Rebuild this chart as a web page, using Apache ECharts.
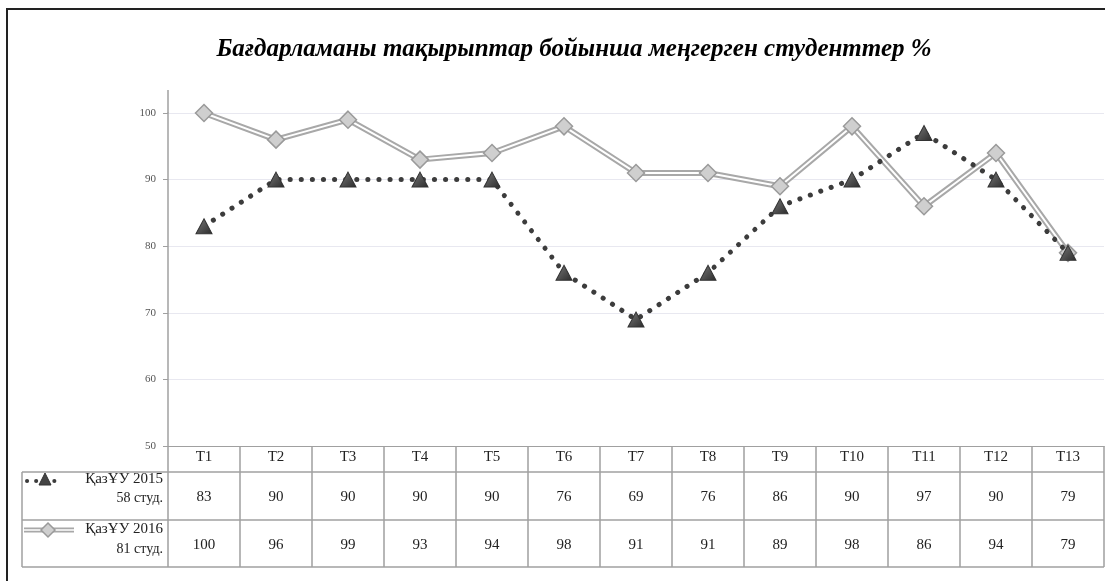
<!DOCTYPE html>
<html><head><meta charset="utf-8">
<script src="https://cdn.jsdelivr.net/npm/echarts@6/dist/echarts.min.js"></script>
<style>html,body{margin:0;padding:0;background:#fff}#c{width:1105px;height:581px}</style>
</head><body><div id="c"></div>
<script>
const categories = ['T1','T2','T3','T4','T5','T6','T7','T8','T9','T10','T11','T12','T13'];
const values2015 = [83, 90, 90, 90, 90, 76, 69, 76, 86, 90, 97, 90, 79];
const values2016 = [100, 96, 99, 93, 94, 98, 91, 91, 89, 98, 86, 94, 79];
const name2015 = ['ҚазҰУ 2015', '58 студ.'];
const name2016 = ['ҚазҰУ 2016', '81 студ.'];
const yTicks = [50, 60, 70, 80, 90, 100];
const titleText = 'Бағдарламаны тақырыптар бойынша меңгерген студенттер %';

const FONT = 'Liberation Serif';
const GL = 168, GR = 1104, GT = 113, GB = 446;
const ROW1 = 472, ROW2 = 520, ROW3 = 567, TL = 22;
const gridLine = '#a0a0a0';

const chart = echarts.init(document.getElementById('c'), null, {renderer: 'canvas'});
const option = {
  animation: false,
  backgroundColor: '#fff',
  title: {
    text: titleText, left: 569, top: 32, textAlign: 'center',
    textStyle: {fontFamily: FONT, fontSize: 25, fontWeight: 'bold', fontStyle: 'italic', color: '#000'}
  },
  grid: {left: GL, right: 1105 - GR, top: GT, bottom: 581 - GB, containLabel: false},
  xAxis: [
    {
      type: 'category', data: categories, boundaryGap: true, position: 'bottom',
      axisLine: {show: true, lineStyle: {color: gridLine, width: 1}},
      axisTick: {show: true, interval: 0, length: ROW3 - GB, lineStyle: {color: gridLine, width: 1.5}},
      axisLabel: {interval: 0, margin: 4, fontFamily: FONT, fontSize: 15, color: '#222'}
    },
    {
      type: 'category', data: values2015.map(String), boundaryGap: true, position: 'bottom', offset: 41,
      axisLine: {show: false}, axisTick: {show: false},
      axisLabel: {interval: 0, margin: 3, fontFamily: FONT, fontSize: 15, color: '#222'}
    },
    {
      type: 'category', data: values2016.map(String), boundaryGap: true, position: 'bottom', offset: 89,
      axisLine: {show: false}, axisTick: {show: false},
      axisLabel: {interval: 0, margin: 3, fontFamily: FONT, fontSize: 15, color: '#222'}
    }
  ],
  yAxis: {
    type: 'value', min: yTicks[0], max: yTicks[yTicks.length - 1], interval: 10,
    axisLine: {show: true, lineStyle: {color: gridLine, width: 1.5}},
    axisTick: {show: true, length: 5, lineStyle: {color: gridLine}},
    axisLabel: {margin: 12, fontFamily: FONT, fontSize: 11, color: '#555'},
    splitLine: {show: true, lineStyle: {color: '#e8e8f0', width: 1}}
  },
  series: [
    {
      name: name2015[0], type: 'line', xAxisIndex: 0, data: values2015, z: 4,
      lineStyle: {color: '#3c3c3c', width: 5, type: [0.1, 11], cap: 'round'},
      symbol: 'triangle', symbolSize: [16, 15],
      itemStyle: {color: new echarts.graphic.LinearGradient(0, 0, 1, 1, [{offset: 0, color: '#7a7a7a'}, {offset: 1, color: '#2a2a2a'}]), borderColor: '#333', borderWidth: 1}
    },
    {
      name: name2016[0] + ' outline', type: 'line', xAxisIndex: 0, data: values2016, z: 2,
      lineStyle: {color: '#a8a8a8', width: 6}, symbol: 'none'
    },
    {
      name: name2016[0], type: 'line', xAxisIndex: 0, data: values2016, z: 3,
      lineStyle: {color: '#ffffff', width: 2},
      symbol: 'diamond', symbolSize: 17,
      itemStyle: {color: '#cfcfcf', borderColor: '#9a9a9a', borderWidth: 1.5}
    }
  ],
  graphic: [
    {type: 'rect', shape: {x: 7, y: 9, width: 1300, height: 1300}, style: {fill: 'none', stroke: '#222', lineWidth: 2}, silent: true},
    {type: 'line', shape: {x1: GL, y1: 90, x2: GL, y2: GT}, style: {stroke: gridLine, lineWidth: 1.5}},
    {type: 'line', shape: {x1: TL, y1: ROW1, x2: GR, y2: ROW1}, style: {stroke: gridLine, lineWidth: 1.5}},
    {type: 'line', shape: {x1: TL, y1: ROW2, x2: GR, y2: ROW2}, style: {stroke: gridLine, lineWidth: 1.5}},
    {type: 'line', shape: {x1: TL, y1: ROW3, x2: GR, y2: ROW3}, style: {stroke: gridLine, lineWidth: 1.5}},
    {type: 'line', shape: {x1: TL, y1: ROW1, x2: TL, y2: ROW3}, style: {stroke: gridLine, lineWidth: 1.5}},
    // legend key 2015
    {type: 'polyline', shape: {points: [[27, 481], [62, 481]]}, style: {stroke: '#3c3c3c', lineWidth: 4, lineDash: [0.1, 9], lineCap: 'round'}},
    {type: 'polygon', shape: {points: [[45, 473], [51, 485], [39, 485]]}, style: {fill: '#444', stroke: '#333'}},
    // legend key 2016
    {type: 'line', shape: {x1: 24, y1: 530, x2: 74, y2: 530}, style: {stroke: '#a8a8a8', lineWidth: 5}},
    {type: 'line', shape: {x1: 24, y1: 530, x2: 74, y2: 530}, style: {stroke: '#fff', lineWidth: 1.5}},
    {type: 'polygon', shape: {points: [[48, 523], [55, 530], [48, 537], [41, 530]]}, style: {fill: '#cfcfcf', stroke: '#9a9a9a', lineWidth: 1.5}},
    {type: 'text', x: 163, y: 479, style: {text: name2015[0], align: 'right', verticalAlign: 'middle', font: '15px "Liberation Serif"', fill: '#222'}},
    {type: 'text', x: 163, y: 498, style: {text: name2015[1], align: 'right', verticalAlign: 'middle', font: '14px "Liberation Serif"', fill: '#222'}},
    {type: 'text', x: 163, y: 529, style: {text: name2016[0], align: 'right', verticalAlign: 'middle', font: '15px "Liberation Serif"', fill: '#222'}},
    {type: 'text', x: 163, y: 549, style: {text: name2016[1], align: 'right', verticalAlign: 'middle', font: '14px "Liberation Serif"', fill: '#222'}}
  ]
};
chart.setOption(option);
</script></body></html>
